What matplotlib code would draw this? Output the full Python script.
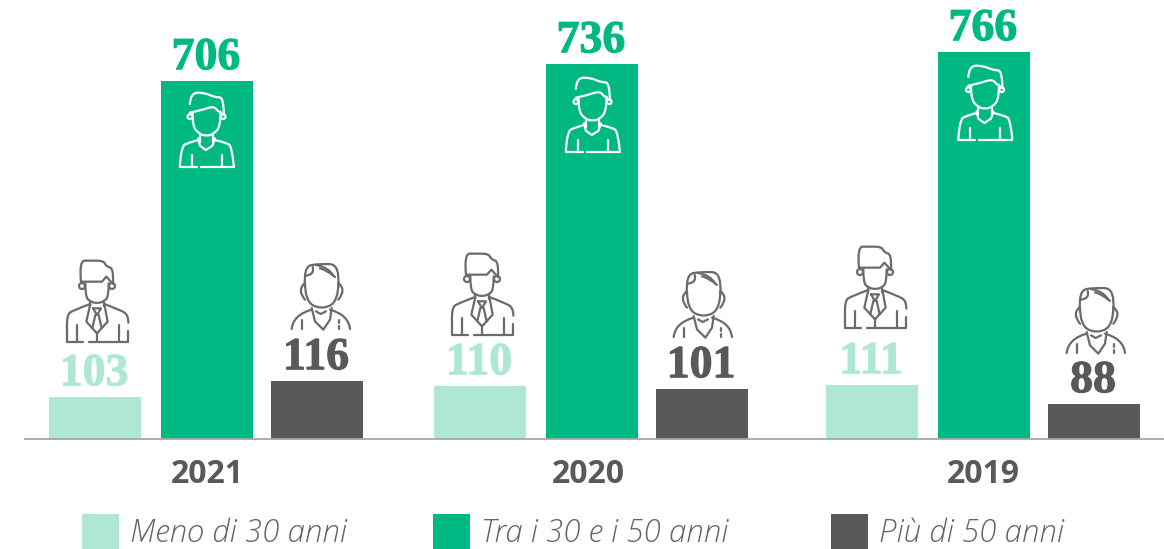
import matplotlib
matplotlib.use("Agg")
import matplotlib.pyplot as plt
from matplotlib.path import Path
from matplotlib.patches import PathPatch, Circle, Patch
from matplotlib.transforms import Affine2D
import matplotlib.patheffects as pe

# ---- data ----
years = ["2021", "2020", "2019"]
series_names = ["Meno di 30 anni", "Tra i 30 e i 50 anni", "Più di 50 anni"]
under_30 = [103, 110, 111]
from_30_to_50 = [706, 736, 766]
over_50 = [116, 101, 88]
# Bar heights as drawn in the reference (it is not strictly proportional to the labels)
under_30_drawn = [41.5, 52.5, 53.5]
from_30_to_50_drawn = [357.5, 374.5, 386.5]
over_50_drawn = [57.5, 49.5, 34.5]

# ---- style / layout ----
W, H = 1164, 549
BASE = 438.5
LIGHT, GREEN, DARK = "#AEE8D5", "#00B982", "#58595B"
colors = [LIGHT, GREEN, DARK]
group_x = [207, 592, 984]
tick_x = [207, 588, 983]
offsets = [-112, 0, 110]
BAR_W = 92
legend_x = [82, 433, 831]

fig = plt.figure(figsize=(W / 100, H / 100), dpi=100, facecolor="white")
ax = fig.add_axes([0, (H - BASE) / H, 1, BASE / H])
ax.set_xlim(0, W)
ax.set_ylim(0, BASE)
ax.patch.set_alpha(0)
for s in ("top", "left", "right"):
    ax.spines[s].set_visible(False)
ax.spines["bottom"].set_bounds(25, W)
ax.spines["bottom"].set_color("#A6A6A6")
ax.spines["bottom"].set_linewidth(1.3)
ax.set_yticks([])
ax.set_xticks(tick_x, years, family="Open Sans", fontweight="bold", fontsize=23, color=DARK)
ax.tick_params(axis="x", length=0, pad=14)

drawn = [under_30_drawn, from_30_to_50_drawn, over_50_drawn]
labels = [under_30, from_30_to_50, over_50]
for k in range(3):
    xs = [g + offsets[k] for g in group_x]
    ax.bar(xs, drawn[k], width=BAR_W, color=colors[k], label=series_names[k], zorder=1)
    for x, h, v in zip(xs, drawn[k], labels[k]):
        ax.annotate(str(v), (x - 1, h), xytext=(0, 8.5), textcoords="offset points",
                    ha="center", va="baseline", family="Liberation Serif", fontweight="bold",
                    fontsize=33, color=colors[k], zorder=3,
                    path_effects=[pe.withStroke(linewidth=0.8, foreground=colors[k])])

# ---- person pictograms: strokes in zoom-pixel units (3 per px), local to icon ----
def smooth(points):
    verts, codes = [points[0]], [Path.MOVETO]
    if len(points) == 2:
        return Path(points, [Path.MOVETO, Path.LINETO])
    for i in range(1, len(points) - 1):
        a, b = points[i], points[i + 1]
        end = b if i == len(points) - 2 else ((a[0] + b[0]) / 2, (a[1] + b[1]) / 2)
        verts += [a, end]
        codes += [Path.CURVE3, Path.CURVE3]
    return Path(verts, codes)

def poly(points):
    return Path(points, [Path.MOVETO] + [Path.LINETO] * (len(points) - 1))

ICON_YOUNG = dict(origin=(500, 276), sm=[
    [(450, 312), (452, 278), (495, 278), (525, 292), (552, 292), (552, 345)],
    [(458, 340), (458, 378), (478, 402), (500, 408), (522, 402), (542, 378), (542, 335)],
    [(450, 338), (480, 332), (522, 318), (535, 335), (552, 345)],
    [(420, 498), (424, 440), (445, 428), (475, 420)],
    [(525, 420), (560, 428), (576, 440), (582, 498)],
], ln=[
    [(480, 405), (480, 425)], [(520, 405), (520, 425)],
    [(475, 415), (480, 437), (498, 450), (518, 437), (525, 415)],
    [(420, 500), (470, 500)], [(482, 500), (582, 500)],
    [(455, 465), (455, 498)], [(545, 465), (545, 498)],
], ears=[(450, 350, 7), (550, 350, 7)])

ICON_SUIT = dict(origin=(170, 780), sm=[
    [(122, 845), (116, 782), (150, 782), (190, 782), (198, 800), (220, 805), (218, 850)],
    [(135, 850), (135, 890), (150, 905), (170, 910), (190, 905), (205, 890), (205, 850)],
    [(80, 990), (78, 945), (100, 930), (150, 912)],
    [(192, 912), (240, 930), (264, 945), (264, 968)],
], ln=[
    [(122, 845), (185, 845), (198, 830), (218, 852)],
    [(150, 905), (150, 918)], [(190, 905), (190, 918)],
    [(150, 912), (138, 965), (170, 1000), (202, 965), (192, 912)],
    [(158, 925), (182, 925), (170, 945), (158, 925)],
    [(165, 945), (156, 985)], [(175, 945), (184, 985)],
    [(170, 1000), (170, 1025)],
    [(80, 990), (80, 1025), (128, 1025)], [(145, 1025), (262, 1025), (262, 992)],
    [(110, 975), (110, 1025)], [(235, 975), (235, 1025)],
], ears=[(125, 858, 9), (215, 858, 9)])

ICON_SENIOR = dict(origin=(843, 790), sm=[
    [(795, 860), (790, 800), (840, 792), (900, 795), (895, 860)],
    [(795, 850), (795, 905), (845, 930), (895, 905), (895, 850)],
    [(797, 828), (825, 825), (818, 802)],
    [(828, 796), (865, 802), (880, 828)],
    [(840, 806), (862, 812), (885, 832)],
    [(795, 850), (770, 870), (795, 900)],
    [(895, 850), (920, 870), (895, 900)],
    [(755, 988), (760, 945), (815, 930)],
    [(930, 988), (925, 945), (870, 930)],
], ln=[
    [(815, 925), (825, 965), (850, 990), (870, 960), (875, 925)],
    [(828, 935), (842, 943), (858, 935)],
    [(787, 960), (787, 988)], [(898, 960), (898, 970)], [(898, 978), (898, 988)],
], ears=[])

def icon(spec, cx, top, color):
    ox, oy = spec["origin"]
    tr = (Affine2D().translate(-ox, -oy).scale(1 / 3, -1 / 3).translate(cx, H - top))
    for pts in spec["sm"]:
        ax.add_patch(PathPatch(smooth(pts), fc="none", ec=color, lw=1.6, transform=tr,
                               capstyle="round", joinstyle="round", zorder=4, clip_on=False))
    for pts in spec["ln"]:
        ax.add_patch(PathPatch(poly(pts), fc="none", ec=color, lw=1.6, transform=tr,
                               capstyle="round", joinstyle="round", zorder=4, clip_on=False))
    for (ex, ey, r) in spec["ears"]:
        ax.add_patch(Circle((ex, ey), r, fc="none", ec=color, lw=1.6, transform=tr,
                            zorder=3.5, clip_on=False))

icon_specs = [ICON_SUIT, ICON_YOUNG, ICON_SENIOR]
icon_colors = ["#6A6B6D", "white", "#6A6B6D"]
icon_cx = [[97, 206.5, 321], [482, 592.5, 703], [875, 985, 1096]]
icon_top = [[260, 92, 263], [253, 77, 271], [246, 65, 287]]
for g in range(3):
    for k in range(3):
        icon(icon_specs[k], icon_cx[g][k], icon_top[g][k], icon_colors[k])

# ---- legend: one entry per series, each anchored at its own swatch position ----
for name, c, lx in zip(series_names, colors, legend_x):
    fig.legend([Patch(facecolor=c, edgecolor="none")], [name], frameon=False,
               loc="lower left", bbox_to_anchor=(lx / W, 0), bbox_transform=fig.transFigure,
               borderaxespad=0, borderpad=0, handlelength=1.17, handleheight=1.35,
               handletextpad=0.38,
               prop=dict(family="Open Sans", style="italic", weight="light", size=22.5),
               labelcolor="#636466")
fig.savefig("out.png", dpi=100)
